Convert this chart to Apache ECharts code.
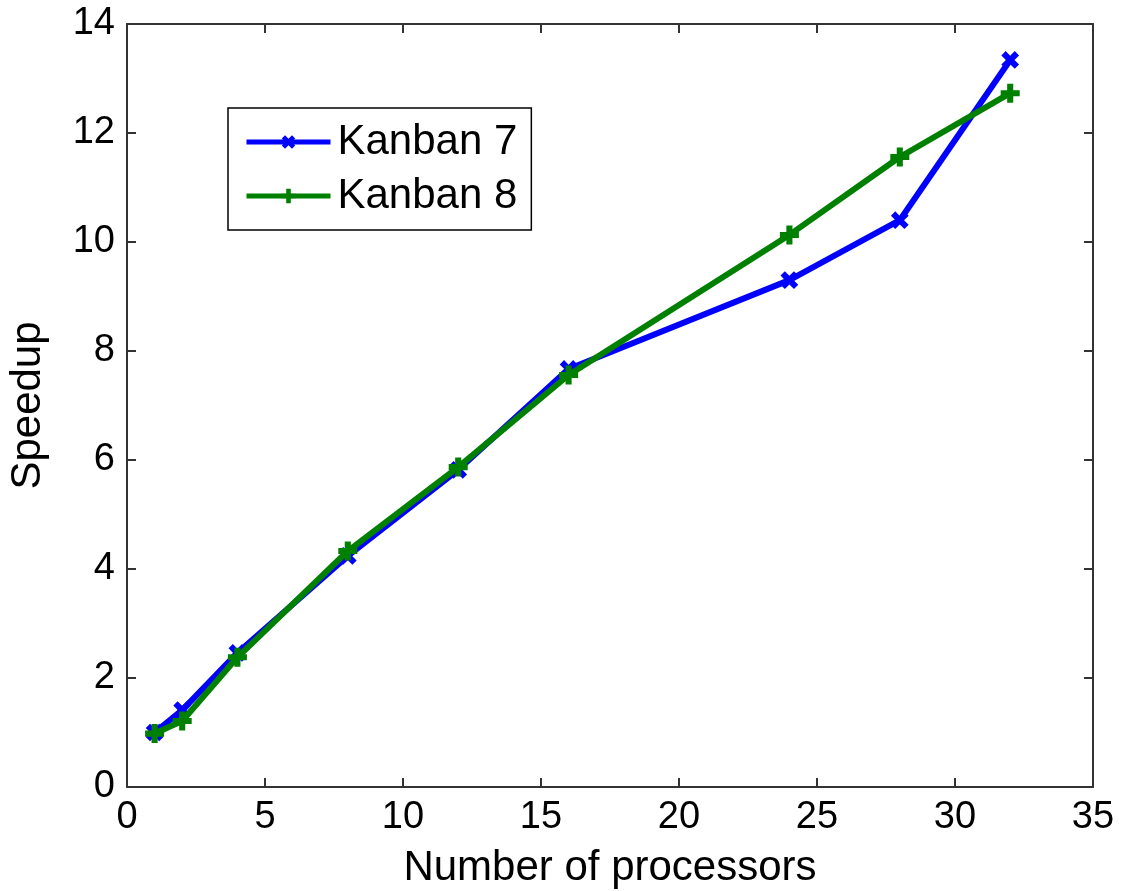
<!DOCTYPE html>
<html>
<head>
<meta charset="utf-8">
<script src="https://cdn.jsdelivr.net/npm/echarts@6/dist/echarts.min.js"></script>
<style>
  html, body { margin: 0; padding: 0; background: #fff; }
  #main { width: 1124px; height: 891px; }
</style>
</head>
<body>
<div id="main"></div>
<script>
var processors = [1, 2, 4, 8, 12, 16, 24, 28, 32];
var kanban7 = [1.0, 1.41, 2.46, 4.24, 5.82, 7.67, 9.3, 10.4, 13.34];
var kanban8 = [0.98, 1.21, 2.38, 4.33, 5.87, 7.56, 10.13, 11.56, 12.73];
var xTicks = [0, 5, 10, 15, 20, 25, 30, 35];
var yTicks = [0, 2, 4, 6, 8, 10, 12, 14];

function pairs(xs, ys) {
    return xs.map(function (x, i) { return [x, ys[i]]; });
}

// thick plus marker; rotated 45deg it becomes the x marker
var plusPath = 'path://M3.4,0H6.6V3.4H10V6.6H6.6V10H3.4V6.6H0V3.4H3.4Z';
var axisColor = '#333';
var font = 'Liberation Sans, Arial, sans-serif';

function frameAxis(extra) {
    var a = {
        type: 'value',
        axisLine: { show: true, onZero: false, lineStyle: { color: axisColor, width: 2 } },
        axisTick: { show: true, inside: true, length: 9, lineStyle: { color: axisColor, width: 2 } },
        axisLabel: { show: false },
        splitLine: { show: false }
    };
    for (var k in extra) a[k] = extra[k];
    return a;
}

var myChart = echarts.init(document.getElementById('main'));

var option = {
    backgroundColor: '#fff',
    animation: false,
    grid: {
        left: 127,
        right: 31,
        top: 24,
        bottom: 104,
        containLabel: false,
        outerBoundsMode: 'none'
    },
    legend: {
        orient: 'vertical',
        left: 228,
        top: 108,
        padding: [13, 14, 13, 16],
        itemGap: 12,
        itemWidth: 84,
        itemHeight: 18,
        borderColor: '#000',
        borderWidth: 1.5,
        backgroundColor: '#fff',
        lineStyle: { width: 5 },
        textStyle: {
            fontFamily: font,
            fontSize: 42,
            color: '#000',
            padding: [0, 0, 0, 2]
        },
        data: ['Kanban 7', 'Kanban 8']
    },
    xAxis: [
        frameAxis({
            min: 0, max: 35, interval: 5,
            name: 'Number of processors',
            nameLocation: 'middle',
            nameGap: 60,
            nameTextStyle: { fontFamily: font, fontSize: 42, color: '#000' },
            axisLabel: {
                show: true, fontFamily: font, fontSize: 38, color: '#000', margin: 12,
                formatter: function (v) { return xTicks.indexOf(v) >= 0 ? v : ''; }
            }
        }),
        frameAxis({ position: 'top', min: 0, max: 35, interval: 5 })
    ],
    yAxis: [
        frameAxis({
            min: 0, max: 14, interval: 2,
            name: 'Speedup',
            nameLocation: 'middle',
            nameGap: 78,
            nameRotate: 90,
            nameTextStyle: { fontFamily: font, fontSize: 42, color: '#000' },
            axisLabel: {
                show: true, fontFamily: font, fontSize: 38, color: '#000', margin: 12,
                formatter: function (v) { return yTicks.indexOf(v) >= 0 ? v : ''; }
            }
        }),
        frameAxis({ position: 'right', min: 0, max: 14, interval: 2 })
    ],
    series: [{
        name: 'Kanban 7',
        type: 'line',
        xAxisIndex: 0,
        yAxisIndex: 0,
        data: pairs(processors, kanban7),
        symbol: plusPath,
        symbolRotate: 45,
        symbolSize: 19,
        lineStyle: { color: '#0000ff', width: 6 },
        itemStyle: { color: '#0000ff' },
        z: 2
    }, {
        name: 'Kanban 8',
        type: 'line',
        xAxisIndex: 0,
        yAxisIndex: 0,
        data: pairs(processors, kanban8),
        symbol: plusPath,
        symbolSize: 19,
        lineStyle: { color: '#008000', width: 6 },
        itemStyle: { color: '#008000' },
        z: 3
    }]
};

myChart.setOption(option);
</script>
</body>
</html>
